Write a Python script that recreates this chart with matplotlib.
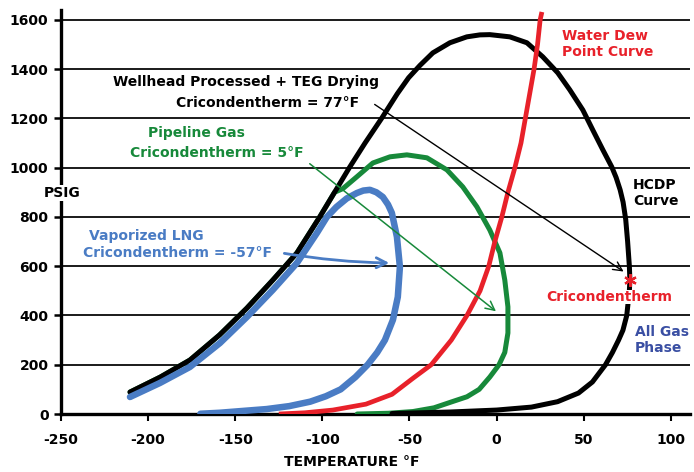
import matplotlib
matplotlib.use("Agg")
import matplotlib.pyplot as plt

plt.rcParams['font.family'] = ['DejaVu Sans']
plt.rcParams['font.weight'] = 'bold'
plt.rcParams['axes.unicode_minus'] = False

# --- data (temperature degF, pressure psig) ---
hcdp_t = [-210.4, -193, -176, -159, -143.3, -128.4, -114.6, -101.5, -93, -84.5, -75.5, -66,
          -57, -50.5, -44, -36.6, -26.8, -17.1, -9.6, -3.9, 7.6, 17.4, 26.5, 35.1, 42,
          49.5, 55.2, 61, 66.1, 68.6, 70.9, 72.6, 74.1, 75.2, 76.2, 76.5, 76.2, 74.7, 72.5,
          70, 66.5, 62.5, 55, 47, 35, 20, 0, -27, -60]
hcdp_p = [89, 150, 219, 321, 430, 544, 654, 800, 900, 1000, 1100, 1200,
          1300, 1365, 1415, 1466, 1507, 1531, 1539, 1540, 1531, 1507, 1450, 1385, 1316,
          1234, 1153, 1072, 1003, 960, 910, 860, 790, 700, 600, 544, 500, 400, 340,
          300, 250, 200, 130, 85, 50, 28, 16, 8, 2]

pipe_t = [-210.4, -193, -176, -159, -143.3, -128.4, -114.6, -101.5, -93, -88.2, -80.2, -71,
          -61.2, -51.5, -40, -28.5, -19.4, -11.3, -3.9, 1.9, 4.7, 6.5, 6.5, 4.7, 1.4, -3.9,
          -10, -17, -25.5, -36, -48, -62, -80]
pipe_p = [89, 150, 219, 321, 430, 544, 654, 800, 900, 915, 963, 1019,
          1044, 1052, 1040, 991, 922, 841, 747, 654, 544, 435, 329, 250, 200, 150,
          100, 70, 50, 25, 10, 3, 0]

lng_t = [-210.4, -193.2, -176, -158.8, -143.3, -128.4, -114.6, -103.1, -97.4, -92, -86, -80.2,
         -76.5, -72.7, -69, -65.3, -62.3, -60.1, -57.2, -55.5, -56.7, -59.5, -64.1, -68.5, -74,
         -81, -89.5, -98, -107, -119, -132, -159, -170]
lng_p = [69, 126, 191, 288, 394, 504, 613, 735, 800, 840, 875, 897,
         907, 910, 900, 881, 850, 816, 719, 597, 475, 382, 300, 250, 200,
         150, 100, 72, 50, 32, 20, 5, 1]

water_t = [-125, -110, -94, -75, -60, -48, -37.5, -26, -17, -9.5, -4.5, -1, 3, 6.5, 10.5,
           14, 16.5, 19, 21.5, 23.5, 25, 26]
water_p = [0, 5, 16, 40, 80, 145, 200, 300, 400, 500, 600, 700, 800, 900, 1000,
           1100, 1200, 1300, 1400, 1500, 1600, 1632]

cricon_t, cricon_p = 76.5, 544

x_ticks = [-250, -200, -150, -100, -50, 0, 50, 100]
y_ticks = [0, 200, 400, 600, 800, 1000, 1200, 1400, 1600]

RED = '#e8212a'
GREEN = '#17893a'
BLUE = '#4a7cc4'
NAVY = '#3a4fa3'

fig = plt.figure(figsize=(6.94, 4.72), dpi=100)
ax = fig.add_axes([61 / 694, 58 / 472, 629 / 694, 404 / 472])

for y in y_ticks[1:]:
    ax.axhline(y, color='#1a1a1a', lw=1.4, zorder=1)

ax.plot(pipe_t, pipe_p, color=GREEN, lw=3.6, solid_capstyle='round', solid_joinstyle='round', zorder=3)
ax.plot(hcdp_t, hcdp_p, color='black', lw=3.6, solid_capstyle='round', solid_joinstyle='round', zorder=4)
ax.plot(water_t, water_p, color=RED, lw=3.4, solid_capstyle='butt', solid_joinstyle='round', zorder=5)
ax.plot(lng_t, lng_p, color=BLUE, lw=4.7, solid_capstyle='round', solid_joinstyle='round', zorder=6)
ax.plot([cricon_t], [cricon_p], marker=(6, 2, 0), color=RED, ms=9, mew=1.6, zorder=8)

# arrows from labels to cricondentherm points
ax.annotate('', xy=(74.2, 572), xytext=(-71.3, 1263),
            arrowprops=dict(arrowstyle='->', color='black', lw=1.0, mutation_scale=16), zorder=7)
ax.annotate('', xy=(0.9, 410), xytext=(-108.5, 1023),
            arrowprops=dict(arrowstyle='->', color=GREEN, lw=1.1, mutation_scale=16), zorder=7)
ax.annotate('', xy=(-60, 613), xytext=(-123.4, 654),
            arrowprops=dict(arrowstyle='->', color=BLUE, lw=2.0, mutation_scale=18,
                            connectionstyle='arc3,rad=0.04'), zorder=7)

fs = 10
ax.text(-144, 1349, 'Wellhead Processed + TEG Drying', ha='center', va='center', fontsize=fs, color='black', zorder=9)
ax.text(-131.5, 1263, 'Cricondentherm = 77°F', ha='center', va='center', fontsize=fs, color='black', zorder=9)
ax.text(-172, 1141, 'Pipeline Gas', ha='center', va='center', fontsize=fs, color=GREEN, zorder=9)
ax.text(-160.8, 1060, 'Cricondentherm = 5°F', ha='center', va='center', fontsize=fs, color=GREEN, zorder=9)
ax.text(-201, 723, 'Vaporized LNG', ha='center', va='center', fontsize=fs, color=BLUE, zorder=9)
ax.text(-183.4, 654, 'Cricondentherm = -57°F', ha='center', va='center', fontsize=fs, color=BLUE, zorder=9)
ax.text(37.4, 1503, 'Water Dew\nPoint Curve', ha='left', va='center', fontsize=fs, color=RED,
        linespacing=1.15, zorder=9)
ax.text(78.2, 897, 'HCDP\nCurve', ha='left', va='center', fontsize=fs, color='black',
        linespacing=1.15, zorder=9)
ax.text(64.4, 475, 'Cricondentherm', ha='center', va='center', fontsize=fs, color=RED, zorder=9,
        bbox=dict(facecolor='white', edgecolor='none', pad=0))
ax.text(79.3, 300, 'All Gas\nPhase', ha='left', va='center', fontsize=fs, color=NAVY,
        linespacing=1.15, zorder=9)
ax.text(-249.4, 897, 'PSIG', ha='center', va='center', fontsize=fs, color='black', zorder=9,
        bbox=dict(facecolor='white', edgecolor='none', pad=0.5), clip_on=False)

ax.set_xlim(-250, 111)
ax.set_ylim(0, 1640)
ax.set_xticks(x_ticks)
ax.set_yticks(y_ticks)
ax.tick_params(axis='y', direction='out', length=5, width=1.8, pad=4, labelsize=10)
ax.tick_params(axis='x', direction='out', length=5, width=1.5, pad=9, labelsize=10)
for lab in ax.get_xticklabels() + ax.get_yticklabels():
    lab.set_fontweight('bold')

for side in ['top', 'right']:
    ax.spines[side].set_visible(False)
for side in ['left', 'bottom']:
    ax.spines[side].set_linewidth(2.4)

fig.text(352 / 694, 1 - 462 / 472, 'TEMPERATURE °F', ha='center', va='center', fontsize=10)

fig.savefig('out.png', dpi=100)
